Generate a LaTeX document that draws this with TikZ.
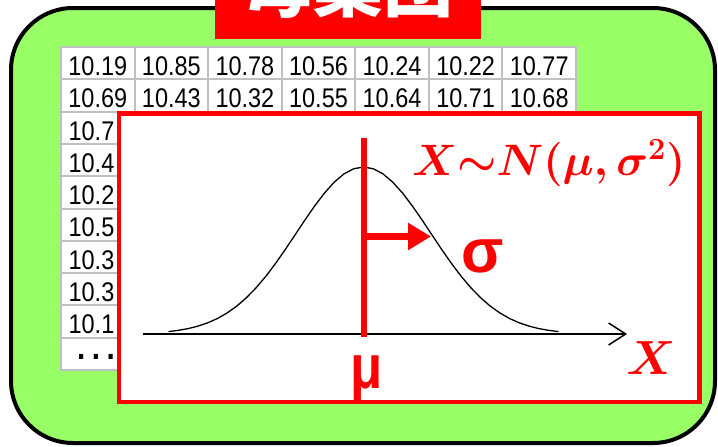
\RequirePackage{fix-cm}
\documentclass[tikz,border=0pt]{standalone}
\usepackage[no-math]{fontspec}
\usepackage{graphicx}
\setmainfont{Liberation Sans}
\newfontfamily\cjk{Noto Sans CJK JP}
\newfontfamily\tabfont{Liberation Sans}[FakeStretch=0.87]
\newfontfamily\mufont{Liberation Sans}[FakeStretch=0.85]
\usetikzlibrary{arrows.meta}
\definecolor{popgreen}{RGB}{153,255,102}
\definecolor{gridgray}{RGB}{192,192,192}
\definecolor{pred}{RGB}{255,0,0}
\newcommand{\bigmath}[1]{\fontsize{#1}{#1}\selectfont\boldmath}
\tikzset{
  cell/.style={inner sep=0pt, font=\tabfont\fontsize{27}{27}\selectfont},
  gline/.style={draw=gridgray, line width=2pt},
  redlbl/.style={text=pred, inner sep=0pt},
}
\begin{document}
\begin{tikzpicture}[x=1pt,y=-1pt]
\useasboundingbox (0,0) rectangle (718,447);
\clip (0,0) rectangle (718,447);
% population box
\node[draw=black, line width=4pt, fill=popgreen, rounded corners=62pt, inner sep=0pt,
      minimum width=704pt, minimum height=435pt] (pop) at (363,225.5) {};
% title
\node[fill=pred, inner sep=0pt, minimum width=266.5pt, minimum height=50pt] (titlebox) at (348.2,14) {};
\node[anchor=base, text=white, inner sep=0pt, font=\cjk\bfseries\fontsize{70}{70}\selectfont] (title) at (348,12) {母集団};
% table
\fill[white] (61,47) rectangle (576,370);
\foreach \k in {0,...,10} {\draw[gline] (60,{47+32.3*\k}) -- (577,{47+32.3*\k});}
\foreach \k in {0,...,7} {\draw[gline] ({61+73.571*\k},46) -- ({61+73.571*\k},371);}
\foreach \v [count=\i] in {10.19,10.85,10.78,10.56,10.24,10.22,10.77}
  {\node[cell] (r1c\i) at ({61+73.571*(\i-0.5)},66.2) {\v};}
\foreach \v [count=\i] in {10.69,10.43,10.32,10.55,10.64,10.71,10.68}
  {\node[cell] (r2c\i) at ({61+73.571*(\i-0.5)},98.5) {\v};}
\foreach \v [count=\i from 3] in {10.7,10.4,10.2,10.5,10.3,10.3,10.1}
  {\node[cell, anchor=west] (r\i c1) at (68.4,{47+32.3*(\i-0.5)+3}) {\v};}
\node[cell, anchor=base west, text height=5pt, text depth=0pt, font=\tabfont\bfseries\fontsize{34}{34}\selectfont] (dots) at (77,359) {.\hspace{6.5pt}.\hspace{6.5pt}.\hspace{6.5pt}.};
% plot box
\node[draw=pred, line width=4.5pt, fill=white, inner sep=0pt,
      minimum width=580.5pt, minimum height=288.5pt] (plotbox) at (409.25,257.75) {};
% axis
\coordinate (axL) at (143,334);
\coordinate (axR) at (627,334);
\draw[line width=1.5pt, -{Straight Barb[length=17pt,width=22pt]}] (axL) -- (axR);
% bell curve
\draw[line width=1.3pt] plot[domain=-195:195, samples=41]
  ({363.5+\x}, {334-167*exp(-0.5*(\x/67)^2)});
% mean line
\coordinate (mtop) at (363.5,138);
\coordinate (mbot) at (363.5,337);
\draw[pred, line width=6pt] (mtop) -- (mbot);
% sigma arrow
\coordinate (sa) at (363.5,236.5);
\coordinate (sb) at (431,236.5);
\draw[pred, line width=7pt, -{Triangle[length=23pt,width=26pt]}] (sa) -- (sb);
% labels
\node[redlbl, font=\bfseries\fontsize{62}{62}\selectfont] (sig) at (483,256.5) {σ};
\node[redlbl, font=\mufont\bfseries\fontsize{62}{62}\selectfont] (muLabel) at (367,378) {μ};
\node[redlbl, font=\bigmath{48}] (xLabel) at (651,358.5) {$X$};
\node[redlbl, anchor=base west, font=\bigmath{44}] (formula) at (412,175) {$X{\sim}N(\mu,\sigma^2)$};
\end{tikzpicture}
\end{document}
